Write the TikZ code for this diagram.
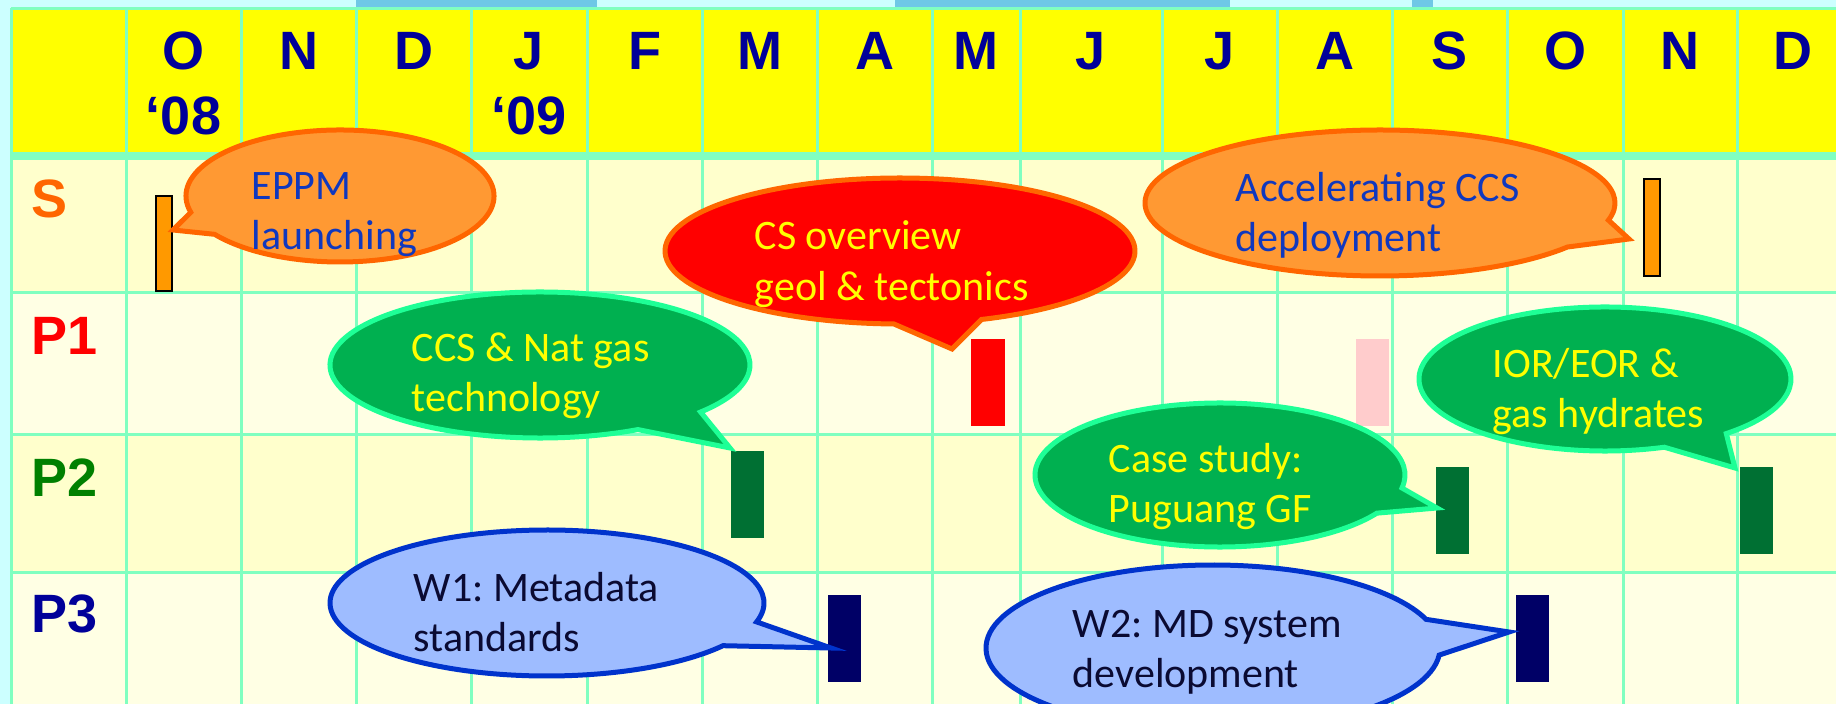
\documentclass[tikz,border=0pt]{standalone}
\usepackage{fontspec}
\setmainfont{Liberation Sans}
\newfontfamily\calloutfont{Carlito}
\usetikzlibrary{calc}
\frenchspacing

\definecolor{pagecyan}{RGB}{204,255,255}
\definecolor{photoblue}{RGB}{110,200,230}
\definecolor{gridgreen}{RGB}{128,255,192}
\definecolor{headyellow}{RGB}{255,255,0}
\definecolor{rowdark}{RGB}{255,255,204}
\definecolor{rowlight}{RGB}{255,255,228}
\definecolor{monthblue}{RGB}{0,0,153}
\definecolor{labelorange}{RGB}{255,102,0}
\definecolor{labelgreen}{RGB}{0,128,0}
\definecolor{barorange}{RGB}{255,153,0}
\definecolor{barred}{RGB}{255,0,0}
\definecolor{barpink}{RGB}{255,204,204}
\definecolor{bargreen}{RGB}{0,112,51}
\definecolor{barnavy}{RGB}{0,0,102}
\definecolor{callorange}{RGB}{255,153,51}
\definecolor{calledge}{RGB}{255,102,0}
\definecolor{callgreen}{RGB}{0,176,80}
\definecolor{greenedge}{RGB}{30,255,150}
\definecolor{callblue}{RGB}{158,188,255}
\definecolor{blueedge}{RGB}{0,51,204}
\definecolor{txtblue}{RGB}{16,56,190}
\definecolor{txtdark}{RGB}{10,10,50}

\tikzset{every picture/.style={line width=0.75pt}}
\tikzset{
  gridline/.style={draw=gridgreen, line width=1.5pt},
  month/.style={anchor=base, inner sep=0pt, text=monthblue, font=\fontsize{27}{30}\selectfont\bfseries},
  rowlabel/.style={anchor=base west, inner sep=0pt, font=\fontsize{27}{30}\selectfont\bfseries},
  calltxt/.style={anchor=base west, inner sep=0pt, font=\calloutfont\fontsize{21}{25}\selectfont},
  orangecall/.style={fill=callorange, draw=calledge, line width=2.5pt, line join=miter},
  redcall/.style={fill=barred, draw=calledge, line width=2.5pt, line join=miter},
  greencall/.style={fill=callgreen, draw=greenedge, line width=2.5pt, line join=miter},
  bluecall/.style={fill=callblue, draw=blueedge, line width=2.5pt, line join=miter},
  sbar/.style={fill=barorange, draw=black, line width=1.2pt}
}

% callout: style, centre, x radius, y radius, start angle, end angle, tip
\newcommand{\callout}[7]{%
  \draw[#1] (#2) ++(#5:#3 and #4) arc[start angle=#5, end angle=#6, x radius=#3, y radius=#4] -- (#7) -- cycle;}

\begin{document}
\begin{tikzpicture}[x=0.5pt,y=-0.5pt]
  \useasboundingbox (0,0) rectangle (1836,704);

  %Shape: Background
  \fill[pagecyan] (0,0) rectangle (1836,704);
  \fill[photoblue] (356,0) rectangle (597,7);
  \fill[photoblue] (895,0) rectangle (1230,7);
  \fill[photoblue] (1412,0) rectangle (1433,7);
  \fill[headyellow] (11,8) rectangle (1836,156);
  \fill[rowdark] (11,156) rectangle (1836,293);
  \fill[rowlight] (11,293) rectangle (1836,435);
  \fill[rowdark] (11,435) rectangle (1836,573);
  \fill[rowlight] (11,573) rectangle (1836,704);

  %Straight Lines: grid
  \draw[gridline] (11,8.5) -- (1836,8.5) (11,293) -- (1836,293) (11,435) -- (1836,435) (11,573) -- (1836,573);
  \draw[gridline, line width=4pt] (11,156) -- (1836,156);
  \draw[gridline] (11,8) -- (11,704) (126,8) -- (126,704) (241,8) -- (241,704) (356,8) -- (356,704)
    (471,8) -- (471,704) (587,8) -- (587,704) (702,8) -- (702,704) (817,8) -- (817,704)
    (932,8) -- (932,704) (1020,8) -- (1020,704) (1162,8) -- (1162,704) (1277,8) -- (1277,704)
    (1392,8) -- (1392,704) (1507,8) -- (1507,704) (1623,8) -- (1623,704) (1737,8) -- (1737,704);

  % Text Node: months
  \node[month] (oct) at (183.5,70) {O};
  \node[month] (yr08) at (183.5,135) {‘08};
  \node[month] (nov) at (298.5,70) {N};
  \node[month] (dec) at (413.5,70) {D};
  \node[month] (jan) at (529,70) {J};
  \node[month] (yr09) at (529,135) {‘09};
  \node[month] (feb) at (644.5,70) {F};
  \node[month] (mar) at (759.5,70) {M};
  \node[month] (apr) at (874.5,70) {A};
  \node[month] (may) at (976,70) {M};
  \node[month] (jun) at (1091,70) {J};
  \node[month] (jul) at (1219.5,70) {J};
  \node[month] (aug) at (1334.5,70) {A};
  \node[month] (sep) at (1449.5,70) {S};
  \node[month] (octb) at (1565,70) {O};
  \node[month] (novb) at (1680,70) {N};
  \node[month] (decb) at (1793,70) {D};

  % Text Node: rows
  \node[rowlabel, text=labelorange] (rowS) at (31,218) {S};
  \node[rowlabel, text=barred] (rowPone) at (31,355) {P1};
  \node[rowlabel, text=labelgreen] (rowPtwo) at (31,497) {P2};
  \node[rowlabel, text=monthblue] (rowPthree) at (31,633) {P3};

  %Shape: Rectangle bars
  \draw[sbar] (156,196) rectangle (172,291);
  \draw[sbar] (1644,179) rectangle (1660,276);
  \fill[barred] (971,339) rectangle (1005,426);
  \fill[barpink] (1356,339) rectangle (1389,426);
  \fill[bargreen] (731,451) rectangle (764,538);
  \fill[bargreen] (1436,467) rectangle (1469,554);
  \fill[bargreen] (1740,467) rectangle (1773,554);
  \fill[barnavy] (828,595) rectangle (861,682);
  \fill[barnavy] (1516,595) rectangle (1549,682);

  %Shape: Callouts
  \coordinate (eppmtip) at (173,230);
  \coordinate (cstip) at (952,349);
  \coordinate (acctip) at (1629,239);
  \coordinate (ccstip) at (730,448);
  \coordinate (casetip) at (1437,508);
  \coordinate (iortip) at (1735,468);
  \coordinate (wonetip) at (831,648);
  \coordinate (wtwotip) at (1509,632);
  \callout{orangecall}{340,196}{154}{66}{165.7}{504.5}{eppmtip}
  \callout{redcall}{900,251}{235}{73}{91.5}{429.7}{cstip}
  \callout{orangecall}{1380,203}{235}{73}{37.1}{373.6}{acctip}
  \callout{greencall}{540,365}{210}{73}{62.2}{400.1}{ccstip}
  \callout{greencall}{1220,475}{185}{72}{32.0}{370.4}{casetip}
  \callout{greencall}{1605,379}{186}{72}{71.4}{409.3}{iortip}
  \callout{bluecall}{547,603}{217}{73}{35.8}{375.0}{wonetip}
  \callout{bluecall}{1213,648}{227}{83}{4.9}{339.8}{wtwotip}

  % Text Node: callout texts
  \node[calltxt, text=txtblue] (eppmA) at (251,200) {EPPM};
  \node[calltxt, text=txtblue] (eppmB) at ($(eppmA.base west)+(0,50)$) {launching};
  \node[calltxt, text=headyellow] (csA) at (754,250) {CS overview};
  \node[calltxt, text=headyellow] (csB) at ($(csA.base west)+(0,51)$) {geol \& tectonics};
  \node[calltxt, text=txtblue] (accA) at (1235,202) {Accelerating CCS};
  \node[calltxt, text=txtblue] (accB) at ($(accA.base west)+(0,50)$) {deployment};
  \node[calltxt, text=headyellow] (ccsA) at (411,362) {CCS \& Nat gas};
  \node[calltxt, text=headyellow] (ccsB) at ($(ccsA.base west)+(0,50)$) {technology};
  \node[calltxt, text=headyellow] (caseA) at (1108,473) {Case study:};
  \node[calltxt, text=headyellow] (caseB) at ($(caseA.base west)+(0,50)$) {Puguang GF};
  \node[calltxt, text=headyellow] (iorA) at (1492,378) {IOR/EOR \&};
  \node[calltxt, text=headyellow] (iorB) at ($(iorA.base west)+(0,50)$) {gas hydrates};
  \node[calltxt, text=txtdark] (woneA) at (413,602) {W1: Metadata};
  \node[calltxt, text=txtdark] (woneB) at ($(woneA.base west)+(0,50)$) {standards};
  \node[calltxt, text=txtdark] (wtwoA) at (1072,638) {W2: MD system};
  \node[calltxt, text=txtdark] (wtwoB) at ($(wtwoA.base west)+(0,50)$) {development};
\end{tikzpicture}
\end{document}
